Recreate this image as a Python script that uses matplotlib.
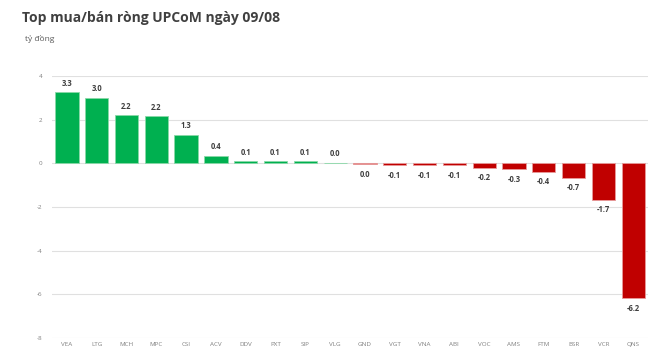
import matplotlib
matplotlib.use("Agg")
import matplotlib.pyplot as plt
import numpy as np

categories = ["VEA", "LTG", "MCH", "MPC", "CSI", "ACV", "DDV", "PXT", "SIP", "VLG",
              "GND", "VGT", "VNA", "ABI", "VOC", "AMS", "FTM", "BSR", "VCR", "QNS"]
values = [3.28, 3.02, 2.22, 2.18, 1.32, 0.36, 0.12, 0.09, 0.09, 0.04,
          -0.03, -0.09, -0.08, -0.09, -0.19, -0.26, -0.38, -0.66, -1.66, -6.18]
labels = ["3.3", "3.0", "2.2", "2.2", "1.3", "0.4", "0.1", "0.1", "0.1", "0.0",
          "0.0", "-0.1", "-0.1", "-0.1", "-0.2", "-0.3", "-0.4", "-0.7", "-1.7", "-6.2"]
yticks = [4, 2, 0, -2, -4, -6, -8]

plt.rcParams['font.family'] = ['Open Sans', 'DejaVu Sans']

fig = plt.figure(figsize=(6.5, 3.51), dpi=100)
ax = fig.add_axes([0.08, 0.037, 0.917, 0.746])

x = np.arange(len(categories))
colors = ["#00B050" if v >= 0 else "#C00000" for v in values]
edges = ["#8ad9a8" if v >= 0 else "#e89a9a" for v in values]
ax.bar(x, values, width=0.78, color=colors, edgecolor=edges, linewidth=0.6, zorder=3)

for xi, v, lab in zip(x, values, labels):
    if v >= 0:
        ax.annotate(lab, (xi, v), xytext=(0, 3), textcoords="offset points",
                    ha="center", va="bottom", fontsize=5.5, fontweight="bold", color="#404040")
    else:
        ax.annotate(lab, (xi, v), xytext=(0, -4), textcoords="offset points",
                    ha="center", va="top", fontsize=5.5, fontweight="bold", color="#404040")

ax.set_xlim(-0.5, len(categories) - 0.5)
ax.set_ylim(-8, 4)
ax.set_yticks(yticks)
ax.set_yticklabels([str(t) for t in yticks])
ax.set_xticks(x)
ax.set_xticklabels(categories)
ax.tick_params(axis="both", length=0, labelsize=4.5, colors="#808080")
ax.tick_params(axis="y", pad=7)
ax.tick_params(axis="x", pad=3)
ax.grid(axis="y", color="#e0e0e0", linewidth=0.8, zorder=0)
for s in ax.spines.values():
    s.set_visible(False)

fig.text(0.034, 0.948, "Top mua/bán ròng UPCoM ngày 09/08", fontsize=10,
         fontweight="bold", color="#404040", ha="left", va="center")
fig.text(0.038, 0.89, "tỷ đồng", fontsize=6, color="#595959", ha="left", va="center")

fig.savefig("out.png", dpi=100, facecolor="white")
